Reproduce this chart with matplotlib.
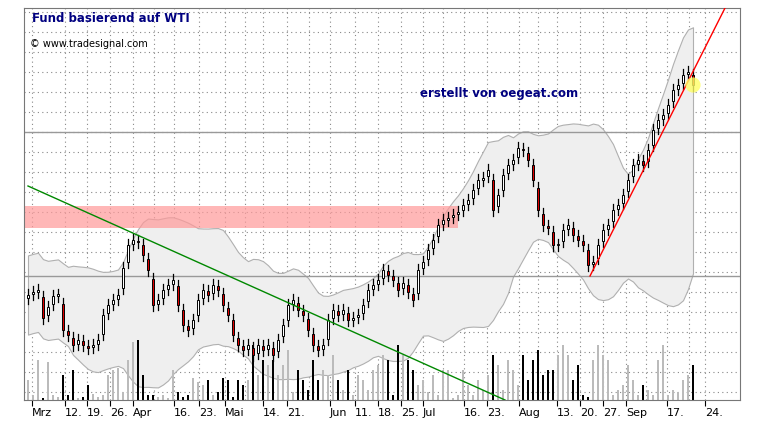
import matplotlib
matplotlib.use("Agg")
import matplotlib.pyplot as plt
import numpy as np
import pandas as pd

# price level (arbitrary units), one per trading day
closes = [105,108,110,82,93,104,105,70,65,55,60,55,52,55,60,85,95,100,105,132,155,160,158,145,130,
          95,100,110,115,120,95,75,70,80,100,110,105,115,110,95,85,65,55,50,55,45,55,50,55,45,60,
          75,95,100,90,85,70,55,50,55,80,90,85,90,80,82,85,95,110,115,120,130,125,120,110,117,108,
          100,130,138,150,160,175,180,182,185,188,195,200,210,220,222,230,190,205,225,235,240,252,
          250,240,220,190,175,172,155,155,170,175,165,160,155,135,138,155,170,175,190,195,205,220,
          235,240,235,250,270,280,285,295,310,315,325,328,315]
volumes = [20,5,40,2,38,5,3,25,5,30,2,3,15,6,3,5,25,30,32,8,40,58,60,25,5,5,3,5,2,30,8,
           3,5,22,18,15,20,5,8,22,20,3,20,15,20,55,25,40,35,40,25,35,50,8,30,20,10,40,
           20,30,25,45,20,10,30,5,25,20,10,30,35,45,40,5,55,45,40,30,15,20,8,25,5,30,30,
           2,5,30,15,5,20,10,25,45,35,10,40,30,15,45,20,40,50,25,30,30,45,55,45,20,35,5,
           3,40,55,45,40,5,10,15,35,20,5,15,10,5,40,55,5,10,8,20,25,35]
tick_labels = ["Mrz","12.","19.","26.","Apr","16.","23.","Mai","14.","21.","Jun","11.","18.",
               "25.","Jul","16.","23.","Aug","13.","20.","27.","Sep","17.","24."]
tick_px = [32,65,87,110,133,174,199,225,263,287,330,355,378,401,423,464,487,519,557,580,603,626,667,705]
minor_px = [154,245,309,443,538,646,689]

def xi(px):
    return (px - 28) / 5.0

n = len(closes)
c = np.array(closes, float)
prev = np.concatenate([[c[0] - 4], c[:-1]])
o = prev + 0.25 * (c - prev)
hi = np.maximum(o, c) + 6
lo = np.minimum(o, c) - 6
idx = np.arange(n)

fig = plt.figure(figsize=(7.64, 4.34), dpi=100)
ax = fig.add_axes([24/764, 34/434, 716/764, 392/434])
ax.set_xlim(xi(24), xi(740))
ax.set_ylim(0, 392)

# Bollinger band
s = pd.Series(c)
mid = s.rolling(20, min_periods=1).mean()
sd = s.rolling(20, min_periods=1).std().fillna(0)
sd = np.maximum(sd, 18)
ax.fill_between(idx, mid + 2.2*sd, mid - 2.2*sd, color="#efefef", edgecolor="#b0b0b0", lw=0.8, zorder=1)

# grid
for p in tick_px + minor_px:
    ax.axvline(xi(p), color="#888888", ls=(0, (1, 3)), lw=0.8, zorder=0.5)
for y in range(8, 392, 20):
    ax.axhline(y, color="#888888", ls=(0, (1, 3)), lw=0.8, zorder=0.5)
ax.axhline(400-132, color="#999999", lw=1, zorder=1.5)
ax.axhline(400-276, color="#999999", lw=1, zorder=1.5)

# resistance zone
ax.axhspan(400-228, 400-206, xmin=0, xmax=(458-24)/716, color="#ff9999", alpha=0.7, lw=0, zorder=1.2)

# volume
vcol = ["#bbbbbb" if c[i] >= o[i] else "black" for i in range(n)]
ax.bar(idx, volumes, width=0.4, color=vcol, zorder=2)

# candles
for i in range(n):
    ax.plot([i, i], [lo[i], hi[i]], color="black", lw=0.9, zorder=3)
    fc = "white" if c[i] >= o[i] else "#dd0000"
    b = min(o[i], c[i]); h = max(abs(c[i]-o[i]), 1.5)
    ax.add_patch(plt.Rectangle((i-0.28, b), 0.56, h, facecolor=fc, edgecolor="black", lw=0.7, zorder=4))

# trend lines
ax.plot([xi(28), xi(505)], [400-186, 400-400], color="#008800", lw=1, zorder=5)
ax.plot([xi(590), xi(725)], [400-276, 400-8], color="red", lw=1, zorder=5)
ax.scatter([n-1], [c[-1]], s=120, color="#ffff66", alpha=0.8, zorder=6, edgecolors="none")

ax.set_xticks([xi(p) for p in tick_px])
ax.set_xticklabels(tick_labels, fontsize=8, ha="left")
ax.tick_params(axis="x", length=4, pad=2, direction="out")
ax.set_yticks([])
for sp in ax.spines.values():
    sp.set_color("#777777")

fig.text(32/764, 1-18/434, "Fund basierend auf WTI", color="#000080", fontsize=8.5, fontweight="bold", va="center")
fig.text(30/764, 1-44/434, "© www.tradesignal.com", color="black", fontsize=7, va="center")
fig.text(420/764, 1-94/434, "erstellt von oegeat.com", color="#000080", fontsize=8.5, fontweight="bold", va="center")

fig.savefig("out.png", dpi=100, facecolor="white")
